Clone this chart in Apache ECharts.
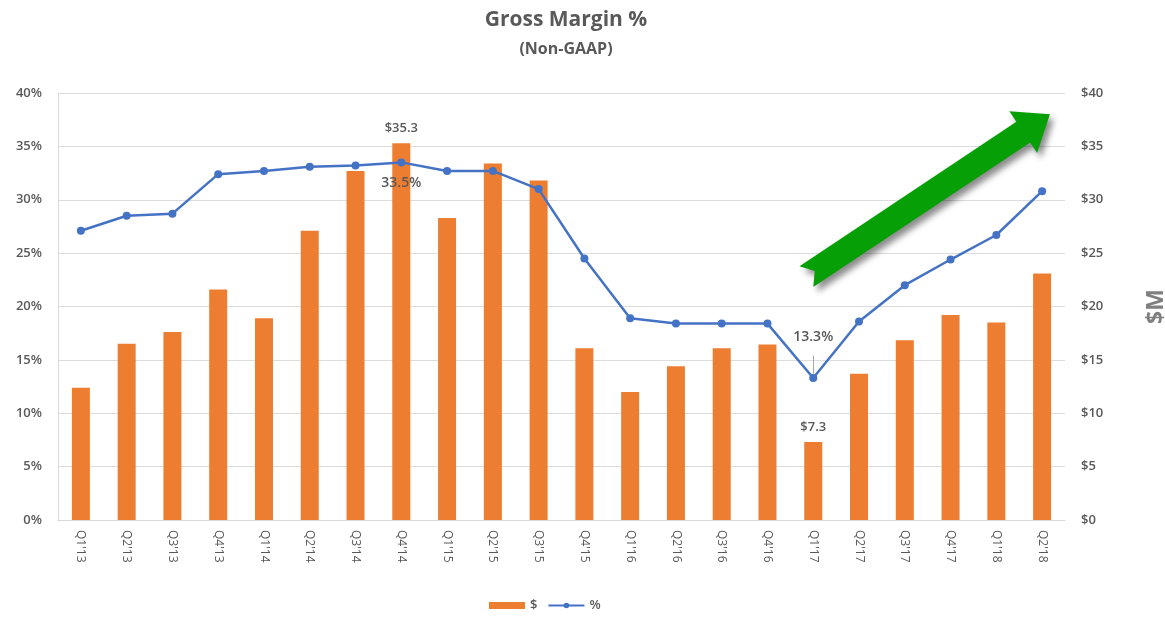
<!DOCTYPE html>
<html>
<head>
<meta charset="utf-8">
<script src="https://cdn.jsdelivr.net/npm/echarts@6/dist/echarts.min.js"></script>
<style>
html,body{margin:0;padding:0;background:#fff;}
#main{width:1165px;height:621px;}
</style>
</head>
<body>
<div id="main"></div>
<script>
// ---- data ----
const categories = ["Q1'13","Q2'13","Q3'13","Q4'13","Q1'14","Q2'14","Q3'14","Q4'14","Q1'15","Q2'15","Q3'15","Q4'15","Q1'16","Q2'16","Q3'16","Q4'16","Q1'17","Q2'17","Q3'17","Q4'17","Q1'18","Q2'18"];
const dollarsM = [12.4,16.5,17.6,21.6,18.9,27.1,32.7,35.3,28.3,33.4,31.8,16.1,12.0,14.4,16.1,16.45,7.3,13.7,16.85,19.2,18.5,23.1];
const marginPct = [27.1,28.5,28.7,32.4,32.7,33.1,33.2,33.5,32.7,32.7,31.0,24.5,18.9,18.4,18.4,18.4,13.3,18.6,22.0,24.4,26.7,30.8];
const pctTicks = {min:0, max:40, interval:5};
const usdTicks = {min:0, max:40, interval:5};
const labeledBars = {7:'$35.3', 16:'$7.3'};
const labeledPoints = {7:'33.5%', 16:'13.3%'};
// annotation arrow, in data space: [category index, percent]
const arrowFrom = [15.85, 22.8];
const arrowTo = [21.17, 38.0];

const FONT = 'Open Sans';
const GRAY = '#595959';

const chart = echarts.init(document.getElementById('main'));

const barData = dollarsM.map((v,i)=>{
  if (labeledBars[i]) {
    return {value:v, label:{show:true, position:'top', distance:8, formatter:labeledBars[i], color:GRAY, fontSize:13, fontFamily:FONT, fontWeight:600}};
  }
  return v;
});
const lineData = marginPct.map((v,i)=>{
  if (i===7) return {value:v, label:{show:true, position:'bottom', distance:10, formatter:labeledPoints[i], color:GRAY, fontSize:14, fontFamily:FONT, fontWeight:600}};
  if (i===16) return {value:v, label:{show:true, position:'top', distance:30, formatter:labeledPoints[i], color:GRAY, fontSize:14, fontFamily:FONT, fontWeight:600}};
  return v;
});

const option = {
  animation:false,
  backgroundColor:'#fff',
  title:[
    {text:'Gross Margin %', left:561, top:5, textAlign:'center', textStyle:{fontFamily:FONT, fontSize:21, fontWeight:'bold', color:GRAY}},
    {text:'(Non-GAAP)', left:561, top:36, textAlign:'center', textStyle:{fontFamily:FONT, fontSize:16, fontWeight:'bold', color:GRAY}}
  ],
  grid:{left:58, right:100, top:93, bottom:101, containLabel:false, outerBoundsMode:'none'},
  legend:{
    bottom:4, left:484, itemWidth:36, itemHeight:7, itemGap:10,
    textStyle:{fontFamily:FONT, fontSize:13, color:GRAY, fontWeight:600},
    data:[{name:'$', icon:'rect'}, {name:'%'}]
  },
  xAxis:{
    type:'category', data:categories, boundaryGap:true,
    axisLine:{show:true, lineStyle:{color:'#d9d9d9'}},
    axisTick:{show:false},
    axisLabel:{rotate:-90, interval:0, margin:10, color:GRAY, fontSize:12, fontFamily:FONT}
  },
  yAxis:[
    {type:'value', min:pctTicks.min, max:pctTicks.max, interval:pctTicks.interval, position:'left',
     axisLine:{show:true, lineStyle:{color:'#d9d9d9'}}, axisTick:{show:false},
     splitLine:{show:true, lineStyle:{color:'#dcdcdc'}},
     axisLabel:{formatter:'{value}%', color:GRAY, fontSize:13, fontFamily:FONT, fontWeight:600, margin:16}},
    {type:'value', min:usdTicks.min, max:usdTicks.max, interval:usdTicks.interval, position:'right',
     name:'$M', nameLocation:'middle', nameRotate:90, nameGap:80,
     nameTextStyle:{fontFamily:FONT, fontSize:23, fontWeight:'bold', color:'#808080'},
     axisLine:{show:false}, axisTick:{show:false}, splitLine:{show:false},
     axisLabel:{formatter:'${value}', color:GRAY, fontSize:13, fontFamily:FONT, fontWeight:600, margin:16}}
  ],
  series:[
    {name:'$', type:'bar', yAxisIndex:1, data:barData, barWidth:18, itemStyle:{color:'#ed7d31'}},
    {name:'%', type:'line', yAxisIndex:0, data:lineData, symbol:'circle', symbolSize:8,
     lineStyle:{color:'#4472c4', width:2.5}, itemStyle:{color:'#4472c4'},
     markLine:{silent:true, symbol:['none','none'], label:{show:false},
       lineStyle:{color:'#a6a6a6', width:1, type:'solid'},
       data:[[{coord:[16, 13.7]},{coord:[16, 15.4]}]]}}
  ]
};
chart.setOption(option);

function drawArrow(){
  const x0 = chart.convertToPixel({xAxisIndex:0}, 0);
  const x1 = chart.convertToPixel({xAxisIndex:0}, 1);
  const step = x1 - x0;
  const T = [x0 + arrowFrom[0]*step, chart.convertToPixel({yAxisIndex:0}, arrowFrom[1])];
  const P = [x0 + arrowTo[0]*step, chart.convertToPixel({yAxisIndex:0}, arrowTo[1])];
  const dx = P[0]-T[0], dy = P[1]-T[1];
  const L = Math.hypot(dx,dy);
  const u = [dx/L, dy/L], v = [-u[1], u[0]];
  const h = 32, hw = 25, sw = 12.5, n = 10;
  const local = [[0,-sw],[L-h,-sw],[L-h,-hw],[L,0],[L-h,hw],[L-h,sw],[0,sw],[n,0]];
  const pts = local.map(([a,b])=>[T[0]+u[0]*a+v[0]*b, T[1]+u[1]*a+v[1]*b]);
  chart.setOption({graphic:[{type:'polygon', shape:{points:pts}, z:100,
    style:{fill:'#06a006', shadowBlur:6, shadowOffsetX:4, shadowOffsetY:5, shadowColor:'rgba(0,0,0,0.45)'}}]});
}
drawArrow();
</script>
</body>
</html>
